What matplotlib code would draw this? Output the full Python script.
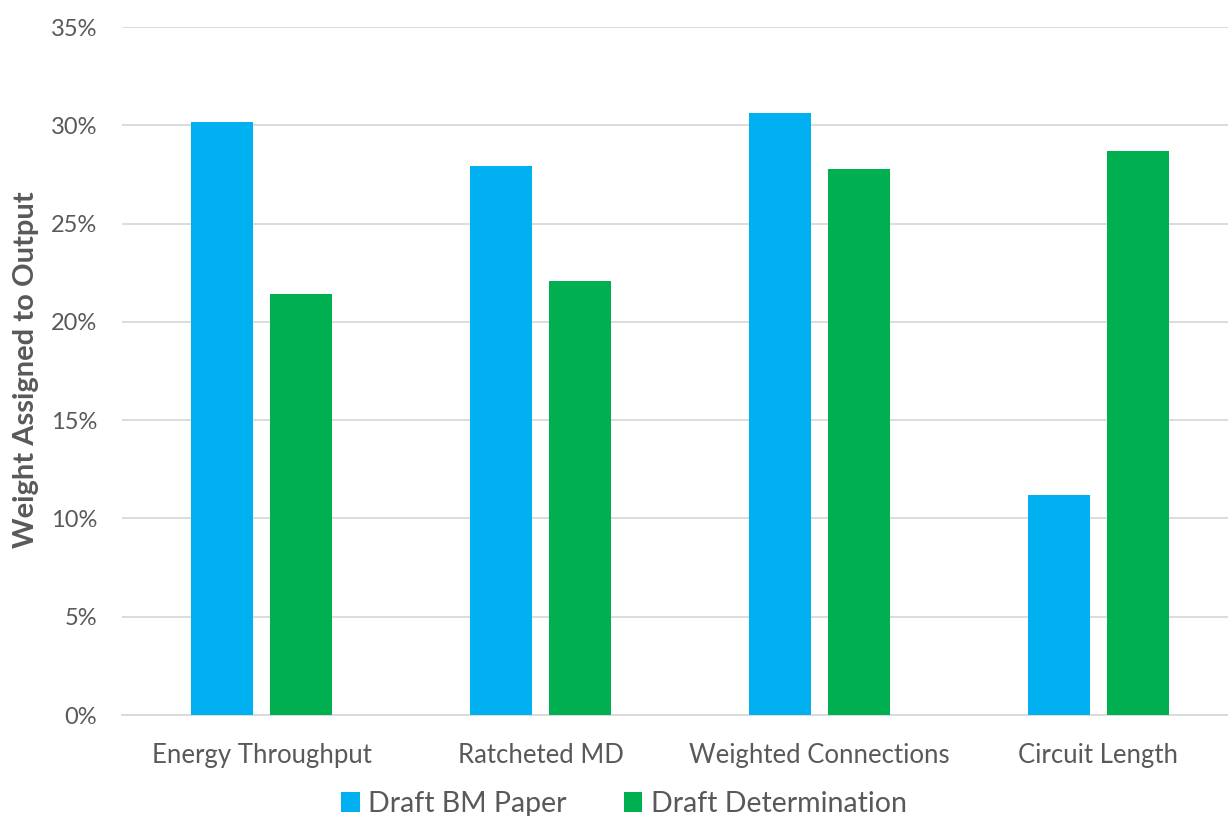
import matplotlib
matplotlib.use("Agg")
import matplotlib.pyplot as plt
import numpy as np
from matplotlib.ticker import PercentFormatter

categories = ["Energy Throughput", "Ratcheted MD", "Weighted Connections", "Circuit Length"]
bm_paper = [30.15, 27.95, 30.65, 11.2]
determination = [21.4, 22.1, 27.8, 28.7]
yticks = [0, 5, 10, 15, 20, 25, 30, 35]

BLUE = "#00b0f0"
GREEN = "#00b050"
GREY = "#595959"
GRID = "#d9d9d9"

plt.rcParams["font.family"] = ["Lato", "DejaVu Sans"]

fig = plt.figure(figsize=(12.28, 8.16), dpi=100)
# axes run slightly past the right edge, like the cropped original
ax = fig.add_axes([122 / 1228, 101 / 816, 1116 / 1228, 688 / 816])

x = np.arange(len(categories))
w = 0.222
ax.bar(x - 0.142, bm_paper, w, color=BLUE, label="Draft BM Paper", zorder=3)
ax.bar(x + 0.142, determination, w, color=GREEN, label="Draft Determination", zorder=3)

ax.set_xlim(-0.5, 3.5)
ax.set_ylim(0, 35)
ax.set_yticks(yticks)
ax.yaxis.set_major_formatter(PercentFormatter(decimals=0))
ax.set_xticks(x)
ax.set_xticklabels(categories)
ax.tick_params(axis="both", length=0, colors=GREY)
ax.tick_params(axis="x", labelsize=18.5, pad=20)
ax.tick_params(axis="y", labelsize=17, pad=18)

ax.grid(axis="y", color=GRID, linewidth=1.3, zorder=0)
for s in ["top", "right", "left"]:
    ax.spines[s].set_visible(False)
ax.spines["bottom"].set_color(GRID)
ax.spines["bottom"].set_linewidth(1.3)

fig.text(0.021, (816 - 370) / 816, "Weight Assigned to Output", rotation=90,
         ha="center", va="center", fontsize=21, fontweight="bold", color=GREY)

leg = fig.legend(loc="center", bbox_to_anchor=(0.508, (816 - 804) / 816), ncol=2,
                 frameon=False, fontsize=20.5, handlelength=0.65, handleheight=0.65,
                 handletextpad=0.3, columnspacing=2.0)
for t in leg.get_texts():
    t.set_color(GREY)

fig.savefig("out.png", dpi=100)
